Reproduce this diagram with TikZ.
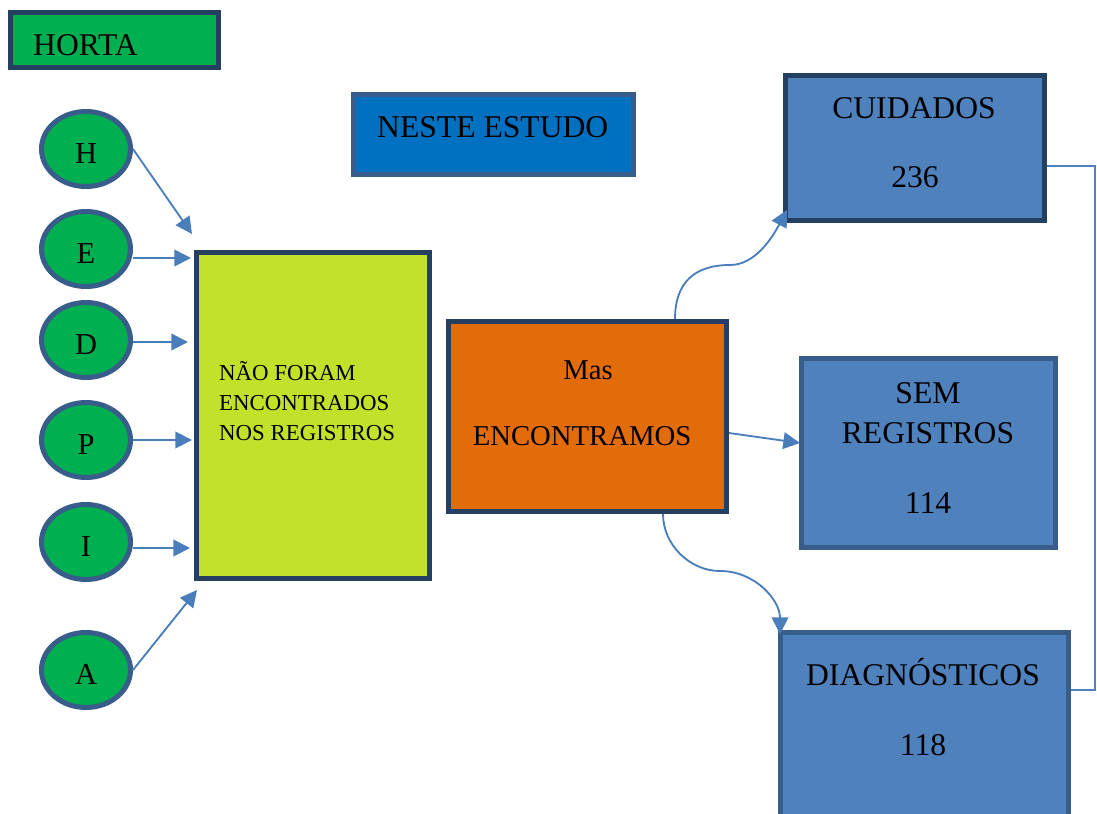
\documentclass[tikz,border=0pt]{standalone}
\usepackage{fontspec}
\setmainfont{Liberation Serif}
\usetikzlibrary{arrows.meta,shapes.geometric}

\def\pix{0.03cm}
\definecolor{verde}{HTML}{00B050}
\definecolor{marinho}{HTML}{243F60}
\definecolor{azulborda}{HTML}{385D8A}
\definecolor{azulforte}{HTML}{0070C0}
\definecolor{azul}{HTML}{4F81BD}
\definecolor{lima}{HTML}{C0E22A}
\definecolor{laranja}{HTML}{E36C0A}
\definecolor{azulseta}{HTML}{4A7EBB}

\begin{document}
\begin{tikzpicture}[x=\pix, y=-\pix,
    caixa/.style={draw=marinho, line width=0.15cm, inner sep=0pt},
    letra/.style={ellipse, draw=azulborda, line width=0.15cm, fill=verde,
      minimum width=89*\pix, minimum height=75*\pix, inner sep=0pt,
      text height=0.85cm, text depth=0pt,
      font=\fontsize{26}{30}\selectfont},
    grande/.style={inner sep=0pt, font=\fontsize{27}{32}\selectfont},
    medio/.style={inner sep=0pt, font=\fontsize{24.5}{29}\selectfont},
    pequeno/.style={inner sep=0pt, font=\fontsize{19.5}{25}\selectfont},
    seta/.style={draw=azulseta, line width=0.055cm,
      -{Triangle[length=0.5cm,width=0.5cm]}},
    ligacao/.style={draw=azul, line width=0.05cm}]
    \useasboundingbox (0,0) rectangle (1097,813);
    \clip (0,0) rectangle (1097,813);

    % caixas
    \node[caixa, fill=verde, minimum width=208*\pix, minimum height=55*\pix] (horta) at (114.5,40) {};
    \node[caixa, draw=azulborda, fill=azulforte, minimum width=280*\pix, minimum height=80*\pix] (neste) at (493.5,134.5) {};
    \node[caixa, fill=lima, minimum width=233*\pix, minimum height=326*\pix] (nf) at (313,415.5) {};
    \node[caixa, fill=laranja, minimum width=278*\pix, minimum height=190*\pix] (mas) at (587.5,416.5) {};
    \node[caixa, fill=azul, minimum width=259*\pix, minimum height=145*\pix] (cuid) at (915,148) {};
    \node[caixa, draw=azulborda, fill=azul, minimum width=254*\pix, minimum height=189*\pix] (sem) at (928.5,453) {};
    \node[caixa, draw=azulborda, fill=azul, minimum width=288*\pix, minimum height=225*\pix] (diag) at (924.5,745) {};

    % textos
    \node[grande, anchor=base west] (hortaT) at (33,55) {HORTA};
    \node[grande, anchor=base west] (nesteT) at (377,137) {NESTE ESTUDO};
    \foreach \t [count=\i] in {NÃO FORAM, ENCONTRADOS, NOS REGISTROS}
        \node[pequeno, anchor=base west] (nf\i) at (219,350+30*\i) {\t};
    \node[medio, anchor=base] (mas1) at (588,379) {Mas};
    \node[medio, anchor=base] (mas2) at (582,445) {ENCONTRAMOS};
    \node[grande, anchor=base] (cuid1) at (914,118) {CUIDADOS};
    \node[grande, anchor=base] (cuid2) at (915,187) {236};
    \node[grande, anchor=base] (sem1) at (928,403) {SEM};
    \node[grande, anchor=base] (sem2) at (928,443) {REGISTROS};
    \node[grande, anchor=base] (sem3) at (928,513) {114};
    \node[grande, anchor=base] (diag1) at (923,685) {DIAGNÓSTICOS};
    \node[grande, anchor=base] (diag2) at (923,755) {118};

    % letras
    \foreach \l/\y in {H/149,E/249,D/340,P/440,I/542,A/670}
        \node[letra] (\l) at (86,\y) {\l};

    \coordinate (tH) at (192,234);
    \coordinate (tE) at (191,258);
    \coordinate (tD) at (188,342);
    \coordinate (tP) at (192,440);
    \coordinate (tI) at (190,548);
    \coordinate (tA) at (197,590);
    \coordinate (tC) at (787,210);
    \coordinate (tS) at (800,443);
    \coordinate (tG) at (780,634);
    \coordinate (b1) at (1095,166);
    \coordinate (b2) at (1095,690);

    \draw[seta] (H.east) -- (tH);
    \foreach \l in {E,D,P,I}
        \draw[seta] (\l.east |- t\l) -- (t\l);
    \draw[seta] (A.east) -- (tA);

    \draw[seta] ([xshift=87.5*\pix]mas.north) .. controls (675,282) and (695,265) .. (730,265)
        .. controls (755,265) and (772,238) .. (tC);
    \draw[seta] ([yshift=-16.5*\pix]mas.east) -- (tS);
    \draw[seta] ([xshift=75.5*\pix]mas.south) .. controls (663,545) and (690,571) .. (720,571)
        .. controls (755,571) and (780,600) .. (tG);

    \draw[ligacao] (cuid.east |- b1) -- (b1) -- (b2) -- (diag.east |- b2);
\end{tikzpicture}
\end{document}
